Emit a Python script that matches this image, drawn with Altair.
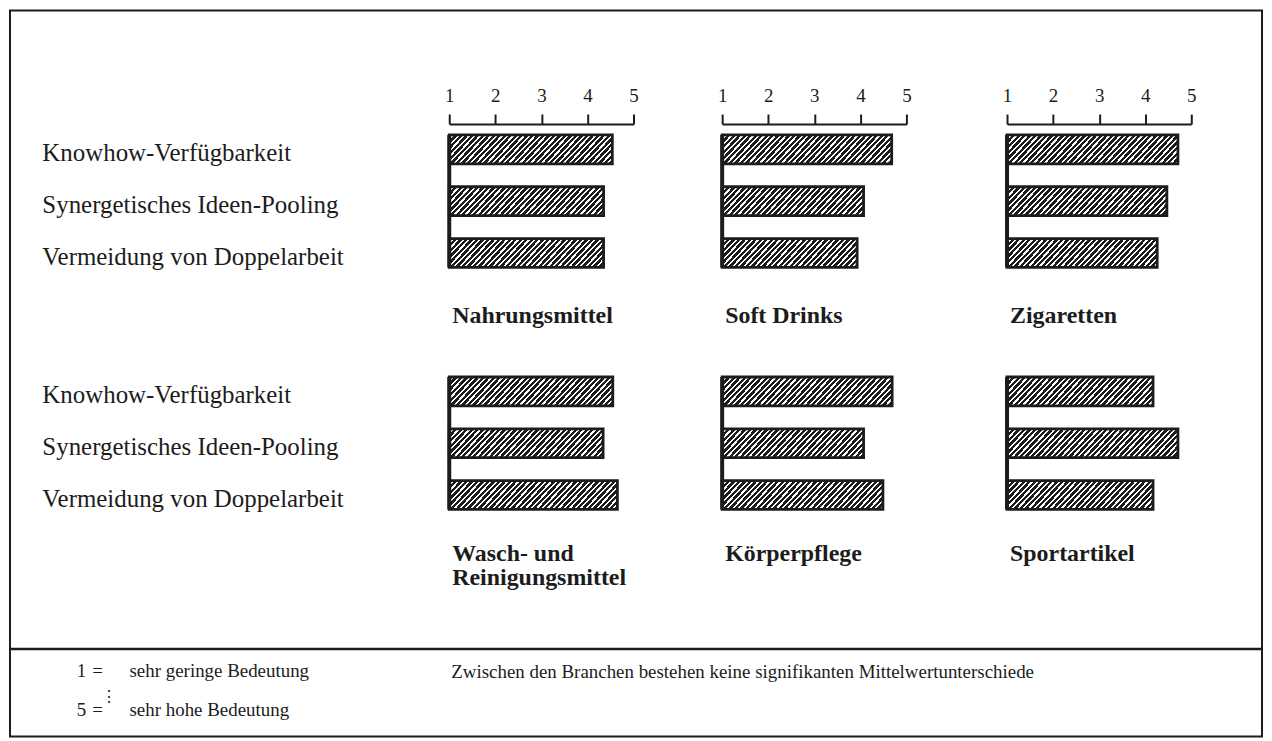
import altair as alt
import pandas as pd

# ---------------- data ----------------
panels = ["Nahrungsmittel", "Soft Drinks", "Zigaretten",
          "Wasch- und\nReinigungsmittel", "Körperpflege", "Sportartikel"]
items = ["Knowhow-Verfügbarkeit", "Synergetisches Ideen-Pooling",
         "Vermeidung von Doppelarbeit"]
knowhow = [4.54, 4.68, 4.71, 4.55, 4.69, 4.17]
ideen = [4.35, 4.07, 4.47, 4.34, 4.07, 4.71]
doppel = [4.35, 3.93, 4.26, 4.65, 4.49, 4.17]
scale_ticks = [1, 2, 3, 4, 5]
legend_low = ["1", "=", "sehr geringe Bedeutung"]
legend_high = ["5", "=", "sehr hohe Bedeutung"]
note = "Zwischen den Branchen bestehen keine signifikanten Mittelwertunterschiede"

# ---------------- style ----------------
SERIF = "Liberation Serif"
INK = "#1c1c1c"
PW = 185          # pixel length of scale 1..5
PH = 133          # panel plot height
BAND_PAD = 0.442
STEP = PH / (3 - BAND_PAD)
BAR_H = STEP * (1 - BAND_PAD)


def hatch(W, H, period=5.5, frac=0.6, a=0.95):
    """diagonal hatch as a striped linear gradient (bbox units)"""
    L = W + a * H
    den = W * W + a * a * H * H
    x2 = W * L / den
    y2 = a * H * L / den
    p = period / L
    stops = []
    t = 0.0
    while t < 1:
        t1 = min(t + frac * p, 1.0)
        t2 = min(t + p, 1.0)
        stops += [{"offset": round(t, 5), "color": INK},
                  {"offset": round(t1, 5), "color": INK},
                  {"offset": round(t1, 5), "color": "white"},
                  {"offset": round(t2, 5), "color": "white"}]
        t += p
    return {"gradient": "linear", "x1": 0, "y1": 0, "x2": x2, "y2": y2,
            "stops": stops}


dummy = pd.DataFrame({"d": [0]})


def txt(x, y, s, size=19, align="left", baseline="alphabetic", weight="normal"):
    return alt.Chart(dummy).mark_text(
        align=align, baseline=baseline, font=SERIF, fontSize=size,
        fontWeight=weight, color=INK, lineHeight=24
    ).encode(x=alt.value(x), y=alt.value(y), text=alt.value(s))


def panel(i):
    row, col = divmod(i, 3)
    vals = [knowhow[i], ideen[i], doppel[i]]
    df = pd.DataFrame({"item": items, "value": vals})
    width = 197 if col == 1 else PW
    xscale = alt.Scale(domain=[1, 5], range=[0, PW], nice=False, zero=False)
    if row == 0:
        xaxis = alt.Axis(orient="top", values=scale_ticks, format="d", title=None,
                         offset=11, tickSize=10, tickWidth=2, domainWidth=2,
                         tickColor=INK, domainColor=INK, labelFont=SERIF,
                         labelFontSize=19, labelColor=INK, labelPadding=13,
                         labelBaseline="alphabetic", labelFlush=False, grid=False)
    else:
        xaxis = None
    if col == 0:
        yaxis = alt.Axis(title=None, ticks=False, tickSize=0, domain=False,
                         labelAlign="left", labelPadding=409, labelFont=SERIF,
                         labelFontSize=25, labelColor=INK, labelLimit=600,
                         labelOffset=4, labelBaseline="middle")
    else:
        yaxis = None
    yenc = alt.Y("item:N", scale=alt.Scale(domain=items, paddingInner=BAND_PAD,
                                           paddingOuter=0), axis=yaxis)
    layers = []
    for it, v in zip(items, vals):
        W = (v - 1) * PW / 4
        layers.append(
            alt.Chart(df).transform_filter(alt.datum.item == it)
            .mark_bar(fill=hatch(W, BAR_H), stroke=INK, strokeWidth=2.8)
            .encode(x=alt.X("value:Q", scale=xscale, axis=xaxis),
                    x2=alt.datum(1), y=yenc)
        )
    layers.append(
        alt.Chart(dummy).mark_rule(strokeWidth=4, color=INK)
        .encode(x=alt.XDatum(1, type="quantitative", scale=xscale, axis=xaxis),
                y=alt.value(0), y2=alt.value(PH))
    )
    layers.append(txt(3, 189 if row == 0 else 185, panels[i].split("\n"),
                      size=24, weight="bold"))
    if i == 3:
        # frame, divider and footer (relative to this panel's origin)
        layers.append(
            alt.Chart(dummy).mark_rect(filled=False, stroke=INK, strokeWidth=2)
            .encode(x=alt.value(-441), x2=alt.value(816),
                    y=alt.value(-368), y2=alt.value(361))
        )
        layers.append(
            alt.Chart(dummy).mark_rule(color=INK, strokeWidth=2.5)
            .encode(x=alt.value(-441), x2=alt.value(816), y=alt.value(273))
        )
        layers.append(txt(-374, 301, legend_low[0]))
        layers.append(txt(-353, 301, legend_low[1], align="center"))
        layers.append(txt(-321, 301, legend_low[2]))
        layers.append(txt(-342, 321, "⋮", size=16, align="center", baseline="middle"))
        layers.append(txt(-374, 340, legend_high[0]))
        layers.append(txt(-353, 340, legend_high[1], align="center"))
        layers.append(txt(-321, 340, legend_high[2]))
        layers.append(txt(2, 302, note))
    return alt.layer(*layers).properties(width=width, height=PH)


chart = alt.concat(*[panel(i) for i in range(6)], columns=3,
                   spacing={"row": 110, "column": 89},
                   bounds="flush", align="each").properties(padding=0,
                                                            background="white")
chart = chart.configure_view(stroke="transparent", strokeWidth=0)

chart.save("out.html", embed_options={"renderer": "svg", "actions": False})
